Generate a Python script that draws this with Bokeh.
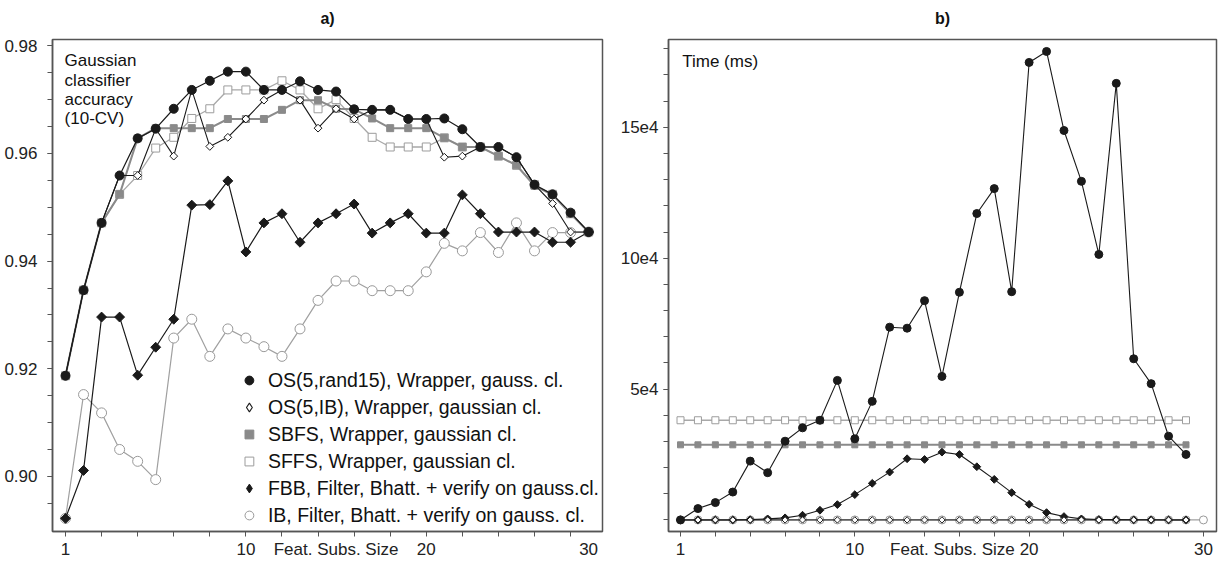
from bokeh.plotting import figure
from bokeh.layouts import row
from bokeh.models import FixedTicker, Range1d, Label, Legend, LegendItem, PrintfTickFormatter, Title
from bokeh.embed import file_html
from bokeh.resources import INLINE

FONT = "Liberation Sans"
NAN = float("nan")

# ---------------- data: panel a) accuracy ----------------
size_a = [1, 2, 3, 4, 5, 6, 7, 8, 9, 10, 11, 12, 13, 14, 15, 16, 17, 18, 19, 20,
          21, 22, 23, 24, 25, 26, 27, 28, 29, 30]
acc_os_rand = [0.9187, 0.9346, 0.9471, 0.9559, 0.9628, 0.9646, 0.9683, 0.9718, 0.9735, 0.9752,
               0.9752, 0.9718, 0.9718, 0.9734, 0.9718, 0.9715, 0.9682, 0.9681, 0.9681, 0.9664,
               0.9664, 0.9665, 0.9645, 0.9612, 0.9612, 0.9593, 0.9542, 0.9524, 0.9490, 0.9454]
acc_os_ib = [0.9187, 0.9346, 0.9471, 0.9559, 0.9559, 0.9646, 0.9595, 0.9718, 0.9613, 0.9630,
             0.9664, 0.9699, 0.9718, 0.9699, 0.9647, 0.9683, 0.9664, 0.9681, 0.9681, 0.9664,
             0.9664, 0.9593, 0.9595, 0.9612, 0.9612, 0.9593, 0.9542, 0.9507, 0.9454, 0.9454]
acc_sbfs = [0.9187, 0.9346, 0.9471, 0.9524, 0.9628, 0.9647, 0.9647, 0.9647, 0.9647, 0.9664,
            0.9664, 0.9664, 0.9681, 0.9699, 0.9699, 0.9683, 0.9682, 0.9665, 0.9647, 0.9647,
            0.9647, 0.9629, 0.9612, 0.9612, 0.9595, 0.9578, 0.9540, 0.9523, 0.9488, 0.9454]
acc_sffs = [0.9187, 0.9346, 0.9471, 0.9524, 0.9559, 0.9610, 0.9630, 0.9665, 0.9683, 0.9718,
            0.9718, 0.9718, 0.9735, 0.9718, 0.9683, 0.9700, 0.9665, 0.9630, 0.9612, 0.9612,
            0.9612, 0.9629, 0.9612, 0.9612, 0.9595, 0.9578, 0.9542, 0.9524, 0.9488, 0.9454]
acc_fbb = [0.8922, 0.9011, 0.9296, 0.9296, 0.9188, 0.9240, 0.9292, 0.9504, 0.9505, 0.9549,
           0.9417, 0.9471, 0.9488, 0.9435, 0.9471, 0.9488, 0.9506, 0.9452, 0.9471, 0.9488,
           0.9452, 0.9452, 0.9523, 0.9488, 0.9454, 0.9454, 0.9454, 0.9435, 0.9435, 0.9454]
acc_ib = [0.8922, 0.9152, 0.9118, 0.9050, 0.9028, 0.8994, 0.9257, 0.9292, 0.9223, 0.9274,
          0.9257, 0.9241, 0.9223, 0.9274, 0.9327, 0.9363, 0.9363, 0.9345, 0.9345, 0.9345,
          0.9380, 0.9433, 0.9419, 0.9453, 0.9416, 0.9471, 0.9419, 0.9453, 0.9453, 0.9454]

# ---------------- data: panel b) time (ms) ----------------
size_b = [1, 2, 3, 4, 5, 6, 7, 8, 9, 10, 11, 12, 13, 14, 15, 16, 17, 18, 19, 20,
          21, 22, 23, 24, 25, 26, 27, 28, 29, 30]
size_b_ib = [1, 2, 3, 4, 5, 6, 7, 8, 9, 10, 11, 12, 13, 14, 15, 16, 17, 18, 19, 20,
             21, 22, 23, 24, 25, 26, 27, 28, 29, 30, 31]
time_os_rand = [0, 4340, 6620, 10660, 22470, 18050, 30080, 35180, 38080, 53310,
                31000, 45300, 73640, 73260, 83780, 54840, 86980, 117060, 126580, 87200,
                174790, 178980, 148780, 129360, 101440, 166790, 61580, 52060, 31990, 25020]
time_os_ib = [0, 0, 0, 0, 0, 0, 0, 0, 0, 0, 0, 0, 0, 0, 0,
              0, 0, 0, 0, 0, 0, 0, 0, 0, 0, 0, 0, 0, 0, 0]
time_sbfs = [28700, 28700, 28700, 28700, 28700, 28700, 28700, 28700, 28700, 28700,
             28700, 28700, 28700, 28700, 28700, 28700, 28700, 28700, 28700, 28700,
             28700, 28700, 28700, 28700, 28700, 28700, 28700, 28700, 28700, 28700]
time_sffs = [38080, 38080, 38080, 38080, 38080, 38080, 38080, 38080, 38080, 38080,
             38080, 38080, 38080, 38080, 38080, 38080, 38080, 38080, 38080, 38080,
             38080, 38080, 38080, 38080, 38080, 38080, 38080, 38080, 38080, 38080]
time_fbb = [0, 0, 0, 0, 100, 400, 800, 1800, 3700, 5860,
            9670, 13980, 18280, 23380, 23110, 25900, 25020, 20330, 15500, 10430,
            5980, 2800, 1290, 400, 150, 100, 50, 50, 0, 0]
time_ib = [0, 0, 0, 0, 0, 0, 0, 0, 0, 0, 0, 0, 0, 0, 0, 0,
           0, 0, 0, 0, 0, 0, 0, 0, 0, 0, 0, 0, 0, 0, 0]

legend_labels = ["OS(5,rand15), Wrapper, gauss. cl.",
                 "OS(5,IB), Wrapper, gaussian cl.",
                 "SBFS, Wrapper, gaussian cl.",
                 "SFFS, Wrapper, gaussian cl.",
                 "FBB, Filter, Bhatt. + verify on gauss.cl.",
                 "IB, Filter, Bhatt. + verify on gauss. cl."]

# ticks
x_ticks_a = [1, 11, 16, 21, 30]
x_ticklabels_a = ["1", "10", "Feat. Subs. Size", "20", "30"]
x_minor_a = [1, 3, 5, 7, 9, 11, 13, 15, 17, 19, 21, 23, 25, 27, 29]
y_ticks_a = [0.90, 0.92, 0.94, 0.96, 0.98]
y_minor_a = [0.895, 0.90, 0.905, 0.91, 0.915, 0.92, 0.925, 0.93, 0.935, 0.94, 0.945,
             0.95, 0.955, 0.96, 0.965, 0.97, 0.975, 0.98]
x_ticks_b = [1, 11, 16.6, 21, 31]
x_ticklabels_b = ["1", "10", "Feat. Subs. Size", "20", "30"]
x_minor_b = [1, 3, 5, 7, 9, 11, 13, 15, 17, 19, 21, 23, 25, 27, 29, 31]
y_ticks_b = [50000, 100000, 150000]
y_ticklabels_b = ["5e4", "10e4", "15e4"]
y_minor_b = [0, 10000, 20000, 30000, 40000, 50000, 60000, 70000, 80000, 90000,
             100000, 110000, 120000, 130000, 140000, 150000, 160000, 170000, 180000]

acc_text = ["Gaussian", "classifier", "accuracy", "(10-CV)"]
panel_titles = ["a)", "b)"]

BLACK = "#1a1a1a"
AX = "#555555"
DIAMOND = 0.785398  # rotate squares to make diamonds


def base_fig(title, width, border_left, border_right, xr, yr, ystandoff):
    p = figure(width=width, height=561, output_backend="svg", toolbar_location=None,
               x_range=Range1d(*xr), y_range=Range1d(*yr),
               min_border_left=border_left, min_border_right=border_right,
               min_border_top=39, min_border_bottom=29)
    p.title.text = title
    p.title.align = "center"
    p.title.text_font = FONT
    p.title.text_font_size = "16px"
    p.title.text_font_style = "bold"
    p.title.text_color = "#111111"
    # small blank spacer between the title and the frame lifts the title a little
    p.add_layout(Title(text=" ", text_font_size="5px", standoff=0), "above")
    p.grid.visible = False
    p.outline_line_color = AX
    p.outline_line_width = 1.5
    p.background_fill_color = "white"
    for ax in (p.xaxis[0], p.yaxis[0]):
        ax.axis_line_color = AX
        ax.axis_line_width = 1.5
        ax.major_tick_line_color = AX
        ax.minor_tick_line_color = AX
        ax.major_tick_out = 5
        ax.major_tick_in = 0
        ax.minor_tick_out = 5
        ax.minor_tick_in = 0
        ax.major_label_text_font = FONT
        ax.major_label_text_font_size = "17px"
        ax.major_label_text_color = "#222222"
        ax.axis_label_standoff = 0
    p.xaxis[0].major_tick_out = 0
    p.xaxis[0].major_label_standoff = 3
    p.yaxis[0].major_label_standoff = ystandoff
    return p


def series(p, x, y, lcolor, lwidth, marker, size, fill, mline, mwidth=1.0, angle=0.0):
    p.line(x, y, line_color=lcolor, line_width=lwidth)
    return p.scatter(x, y, marker=marker, size=size, fill_color=fill, angle=angle,
                     line_color=mline, line_width=mwidth)


# ---------------- panel a ----------------
pa = base_fig(panel_titles[0], 612, 52, 10, (0.279, 30.77), (0.88976, 0.98117), 10)
pa.xaxis[0].ticker = FixedTicker(ticks=x_ticks_a, minor_ticks=x_minor_a)
pa.xaxis[0].major_label_overrides = dict(zip(x_ticks_a, x_ticklabels_a))
pa.yaxis[0].ticker = FixedTicker(ticks=y_ticks_a, minor_ticks=y_minor_a)
pa.yaxis[0].formatter = PrintfTickFormatter(format="%.2f")

r_ib = series(pa, size_a, acc_ib, "#a0a0a0", 1.2, "circle", 10, "white", "#999999")
series(pa, size_a, acc_fbb, BLACK, 1.2, "square", 7, BLACK, BLACK, angle=DIAMOND)
r_sffs = series(pa, size_a, acc_sffs, "#a8a8a8", 1.3, "square", 8, "white", "#9c9c9c")
r_sbfs = series(pa, size_a, acc_sbfs, "#8a8a8a", 2.0, "square", 7, "#8a8a8a", "#8a8a8a")
series(pa, size_a, acc_os_ib, BLACK, 1.1, "square", 5.5, "white", BLACK, angle=DIAMOND)
r_osr = series(pa, size_a, acc_os_rand, BLACK, 1.2, "circle", 9, BLACK, BLACK)

# legend-only diamond handles (a single NaN point, never drawn in the plot)
r_osib_leg = pa.scatter([NAN], [NAN], marker="diamond", size=9, fill_color="white",
                        line_color=BLACK, line_width=1.1)
r_fbb_leg = pa.scatter([NAN], [NAN], marker="diamond", size=11, fill_color=BLACK,
                       line_color=BLACK, line_width=1)

legend = Legend(items=[LegendItem(label=legend_labels[0], renderers=[r_osr]),
                       LegendItem(label=legend_labels[1], renderers=[r_osib_leg]),
                       LegendItem(label=legend_labels[2], renderers=[r_sbfs]),
                       LegendItem(label=legend_labels[3], renderers=[r_sffs]),
                       LegendItem(label=legend_labels[4], renderers=[r_fbb_leg]),
                       LegendItem(label=legend_labels[5], renderers=[r_ib])],
                location="bottom_right")
legend.label_text_font = FONT
legend.label_text_font_size = "19.5px"
legend.label_text_color = "#111111"
legend.glyph_width = 22
legend.glyph_height = 22
legend.label_height = 26
legend.label_standoff = 8
legend.spacing = 1
legend.padding = 3
legend.margin = 0
legend.border_line_alpha = 0
legend.background_fill_alpha = 0
pa.add_layout(legend)

acc_y = [0.97722, 0.97352, 0.9700, 0.96648]
for txt, yy in zip(acc_text, acc_y):
    pa.add_layout(Label(x=0.95, y=yy, text=txt, text_font=FONT, text_font_size="17px",
                        text_baseline="middle", text_color="#111111"))

# ---------------- panel b ----------------
pb = base_fig(panel_titles[1], 606, 56, 2, (0.3115, 31.75), (-4418, 183549), 5)
pb.xaxis[0].ticker = FixedTicker(ticks=x_ticks_b, minor_ticks=x_minor_b)
pb.xaxis[0].major_label_overrides = dict(zip(x_ticks_b, x_ticklabels_b))
pb.yaxis[0].ticker = FixedTicker(ticks=y_ticks_b, minor_ticks=y_minor_b)
pb.yaxis[0].major_label_overrides = dict(zip(y_ticks_b, y_ticklabels_b))

series(pb, size_b_ib, time_ib, "#a0a0a0", 1.2, "circle", 8, "white", "#999999")
series(pb, size_b, time_sffs, "#a8a8a8", 1.3, "square", 7, "white", "#9c9c9c")
series(pb, size_b, time_sbfs, "#8a8a8a", 2.0, "square", 6, "#8a8a8a", "#8a8a8a")
series(pb, size_b, time_fbb, BLACK, 1.1, "square", 5.5, BLACK, BLACK, angle=DIAMOND)
series(pb, size_b, time_os_ib, BLACK, 1.0, "square", 4.5, "white", BLACK, angle=DIAMOND)
series(pb, size_b, time_os_rand, BLACK, 1.1, "circle", 8, BLACK, BLACK)

pb.add_layout(Label(x=1.1, y=175060, text="Time (ms)", text_font=FONT, text_font_size="17px",
                    text_baseline="middle", text_color="#111111"))

layout = row(pa, pb)
open("out.html", "w").write(file_html(layout, INLINE))
